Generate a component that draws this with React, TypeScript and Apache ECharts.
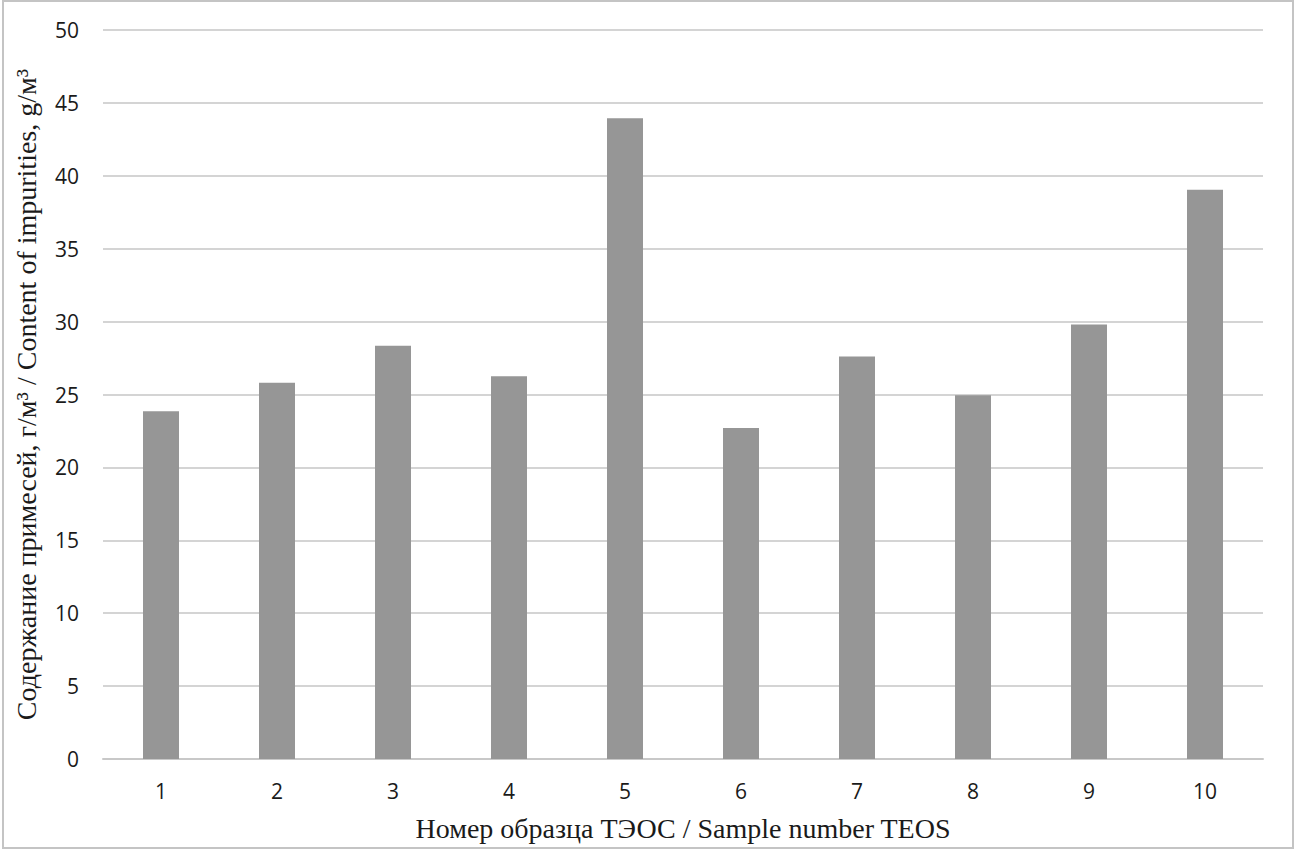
import React, { useEffect, useRef } from "react";
import * as echarts from "echarts";

const categories = ["1", "2", "3", "4", "5", "6", "7", "8", "9", "10"];
const values = [23.85, 25.8, 28.35, 26.25, 43.95, 22.7, 27.6, 24.95, 29.8, 39.05];
const yTitle = "Содержание примесей, г/м³ / Content of impurities, g/м³";
const xTitle = "Номер образца ТЭОС / Sample number TEOS";

export default function App() {
  const ref = useRef<HTMLDivElement>(null);
  useEffect(() => {
    document.body.style.margin = "0";
    const chart = echarts.init(ref.current!, null, { renderer: "svg" });
    chart.setOption({
      animation: false,
      backgroundColor: "#ffffff",
      graphic: [
        {
          type: "rect",
          shape: { x: 3, y: 1, width: 1290, height: 847 },
          style: { fill: "none", stroke: "#c4c4c4", lineWidth: 2 },
          silent: true,
        },
      ],
      grid: { left: 103, right: 36, top: 30, bottom: 95 },
      xAxis: {
        type: "category",
        data: categories,
        name: xTitle,
        nameLocation: "middle",
        nameGap: 55,
        nameTextStyle: { fontFamily: "Liberation Serif", fontSize: 28, color: "#1a1a1a" },
        axisLine: { lineStyle: { color: "#c8c8c8", width: 2 } },
        axisTick: { show: false },
        axisLabel: { fontFamily: "Open Sans", fontSize: 21, color: "#1a1a1a", margin: 21 },
      },
      yAxis: {
        type: "value",
        min: 0,
        max: 50,
        interval: 5,
        name: yTitle,
        nameLocation: "middle",
        nameGap: 63,
        nameTextStyle: { fontFamily: "Liberation Serif", fontSize: 28, color: "#1a1a1a" },
        axisLine: { show: false },
        axisTick: { show: false },
        axisLabel: { fontFamily: "Open Sans", fontSize: 21, color: "#1a1a1a", margin: 24 },
        splitLine: { lineStyle: { color: "#d4d4d4", width: 2 } },
      },
      series: [
        {
          type: "bar",
          data: values,
          barWidth: 36,
          itemStyle: { color: "#969696" },
        },
      ],
    });
    return () => chart.dispose();
  }, []);
  return <div ref={ref} style={{ width: 1299, height: 854 }} />;
}
